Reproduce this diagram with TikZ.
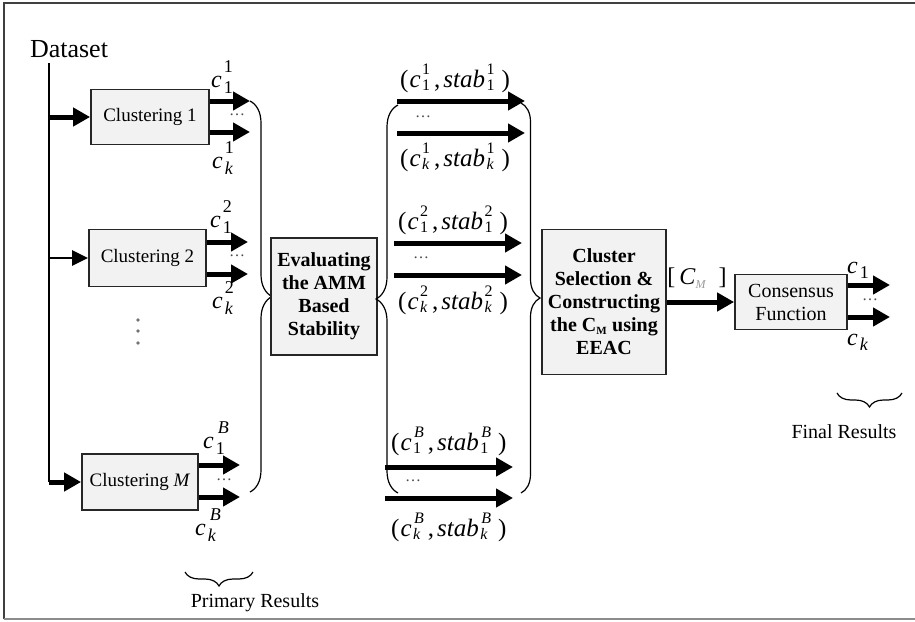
\documentclass[tikz,border=0pt]{standalone}
\usepackage{fontspec}
\setmainfont{Liberation Serif}
\usetikzlibrary{arrows.meta,decorations.pathreplacing}
\definecolor{boxfill}{HTML}{F2F2F2}
\newlength\wa \newlength\wb
\newcommand{\scr}[4]{\settowidth\wa{#1}\settowidth\wb{#2}\ifdim\wa<\wb\wa=\wb\fi\makebox[\wa][l]{\rlap{\raisebox{#3}{#1}}\raisebox{-#4}{#2}}}
\newcommand{\cl}[2]{\textit{c}\kern2pt{\fontsize{18}{18}\selectfont\scr{#1}{#2}{15pt}{6pt}}}
\newcommand{\ps}[2]{{\fontsize{16}{16}\selectfont\scr{#1}{#2}{13pt}{3pt}}}
\newcommand{\pl}[2]{(\kern1pt\textit{c}\kern1.5pt\ps{#1}{#2}\kern4pt,\kern3pt\textit{stab}\kern1.5pt\ps{#1}{#2}\kern7pt)}
\tikzset{
  box/.style={draw=black!85, line width=1.8pt, fill=boxfill, inner sep=0pt, align=center},
  txt/.style={inner sep=0pt, align=center},
  fat/.style={line width=5pt, -{Triangle[length=17pt,width=18pt]}},
  slim/.style={line width=2.4pt, -{Triangle[length=16pt,width=15pt]}},
  trunk/.style={line width=2pt},
  brc/.style={line width=1.2pt, decorate},
  dotsl/.style={inner sep=0pt, text=black!70, font=\fontsize{16}{16}\selectfont},
  lbl/.style={inner sep=0pt, anchor=base west, font=\fontsize{24}{26}\selectfont},
  plbl/.style={inner sep=0pt, anchor=base west, font=\fontsize{25}{27}\selectfont},
  btxt/.style={font=\bfseries\fontsize{20}{23}\selectfont},
  rtxt/.style={font=\fontsize{20}{23}\selectfont},
}
\begin{document}
\begin{tikzpicture}[x=1pt,y=-1pt]
\useasboundingbox (0,0) rectangle (915,621);
% frame
\draw[line width=2pt, black!75] (915,3) -- (4,3) -- (4,619);
\draw[line width=1.2pt, black!45] (4,619) -- (915,619);

% dataset and trunk
\node[txt, font=\fontsize{26}{28}\selectfont] (ds) at (69,49) {Dataset};
\coordinate (t0) at (49,63);
\coordinate (t1) at (49,117);
\coordinate (t2) at (49,258);
\coordinate (tM) at (49,482);
\draw[trunk] (t0) -- (tM);

% clustering boxes
\node[box, minimum width=118pt, minimum height=55pt, font=\fontsize{19}{22}\selectfont] (c1) at (150,117) {Clustering 1};
\node[box, minimum width=117pt, minimum height=57pt, font=\fontsize{19}{22}\selectfont] (c2) at (147.5,258) {Clustering 2};
\node[box, minimum width=116pt, minimum height=56pt, font=\fontsize{19}{22}\selectfont] (cM) at (140,482) {Clustering \textit{M}};

\draw[fat] (t1) -- (c1.west);
\draw[slim] (t2) -- (c2.west);
\draw[fat] (tM) -- (cM.west);

% outputs of clusterings
\coordinate (c1a) at (250,101); \coordinate (c1b) at (250,132);
\coordinate (c2a) at (248,242); \coordinate (c2b) at (248,274);
\coordinate (cMa) at (240,465); \coordinate (cMb) at (240,497);
\draw[fat] (c1.east |- c1a) -- (c1a);
\draw[fat] (c1.east |- c1b) -- (c1b);
\draw[fat] (c2.east |- c2a) -- (c2a);
\draw[fat] (c2.east |- c2b) -- (c2b);
\draw[fat] (cM.east |- cMa) -- (cMa);
\draw[fat] (cM.east |- cMb) -- (cMb);
\node[dotsl] (d1) at (237,115) {\ldots};
\node[dotsl] (d2) at (237,256) {\ldots};
\node[dotsl] (dM) at (224,480) {\ldots};

\node[lbl] (l11) at (211,87) {\cl{1}{1}};
\node[lbl] (l1k) at (212,168) {\cl{1}{\textit{k}}};
\node[lbl] (l21) at (210,227) {\cl{2}{1}};
\node[lbl] (l2k) at (212,308) {\cl{2}{\textit{k}}};
\node[lbl] (lB1) at (203,448) {\cl{\kern2pt\textit{B}}{1}};
\node[lbl] (lBk) at (195,535) {\cl{\kern2pt\textit{B}}{\textit{k}}};

% vertical dots
\foreach \yy in {320,331,343} \fill[black!55] (138,\yy) circle (1.8pt);

% primary results
\draw[brc, decoration={brace,amplitude=14pt}] (253,572) -- (185,572);
\node[txt, font=\fontsize{20}{22}\selectfont] (pr) at (255,603) {Primary Results};

% brace 1
\draw[brc, decoration={brace,amplitude=22pt}] (250,101) -- (250,492);

% evaluating box
\node[box, minimum width=106pt, minimum height=117pt, btxt] (ev) at (324,296.5) {Evaluating\\the AMM\\Based\\Stability};

% brace 2
\draw[brc, decoration={brace,amplitude=22pt}] (398,493) -- (398,105);

% middle arrows
\coordinate (m1s) at (397,101); \coordinate (m1e) at (525,101);
\coordinate (m2s) at (397,133); \coordinate (m2e) at (525,133);
\coordinate (m3s) at (394,243); \coordinate (m3e) at (522,243);
\coordinate (m4s) at (394,275); \coordinate (m4e) at (522,275);
\coordinate (m5s) at (385,467); \coordinate (m5e) at (513,467);
\coordinate (m6s) at (385,498); \coordinate (m6e) at (513,498);
\draw[fat] (m1s) -- (m1e);
\draw[fat] (m2s) -- (m2e);
\draw[fat] (m3s) -- (m3e);
\draw[fat] (m4s) -- (m4e);
\draw[fat] (m5s) -- (m5e);
\draw[fat] (m6s) -- (m6e);
\node[dotsl] (md1) at (423,117) {\ldots};
\node[dotsl] (md2) at (421,258) {\ldots};
\node[dotsl] (md3) at (413,481) {\ldots};

\node[plbl] (p11) at (400,87) {\pl{1}{1}};
\node[plbl] (p1k) at (400,166) {\pl{1}{\textit{k}}};
\node[plbl] (p21) at (398,229) {\pl{2}{1}};
\node[plbl] (p2k) at (398,309) {\pl{2}{\textit{k}}};
\node[plbl] (pB1) at (391,450) {\pl{\kern1pt\textit{B}}{1}};
\node[plbl] (pBk) at (391,536) {\pl{\kern1pt\textit{B}}{\textit{k}}};

% brace 3
\draw[brc, decoration={brace,amplitude=19pt}] (521,103) -- (521,493);

% selection box
\node[box, minimum width=124pt, minimum height=145pt, btxt] (sel) at (604,302) {Cluster\\Selection \&\\Constructing\\the C$_{\mbox{\fontsize{11}{11}\selectfont M}}$ using\\EEAC};

% consensus
\node[box, minimum width=112pt, minimum height=55pt, rtxt] (cons) at (791,302) {Consensus\\Function};
\draw[fat] (sel.east) -- (cons.west);
\node[txt, font=\fontsize{24}{26}\selectfont] (cm) at (697,278) {[\,\textit{C}$_{\mbox{\fontsize{12}{12}\selectfont\color{black!40}\textit{M}}}$\ \ ]};

\coordinate (f1) at (890,285); \coordinate (f2) at (890,317);
\draw[fat] (cons.east |- f1) -- (f1);
\draw[fat] (cons.east |- f2) -- (f2);
\node[dotsl] (fd) at (870,300) {\ldots};
\node[lbl] (fc1) at (847,273) {\textit{c}\kern2pt\raisebox{-5pt}{\fontsize{18}{18}\selectfont 1}};
\node[lbl] (fck) at (847,345) {\textit{c}\kern2pt\raisebox{-5pt}{\fontsize{18}{18}\selectfont\textit{k}}};

\draw[brc, decoration={brace,amplitude=14pt}] (902,393) -- (837,393);
\node[txt, font=\fontsize{20}{22}\selectfont] (fr) at (844,432) {Final Results};
\end{tikzpicture}
\end{document}
